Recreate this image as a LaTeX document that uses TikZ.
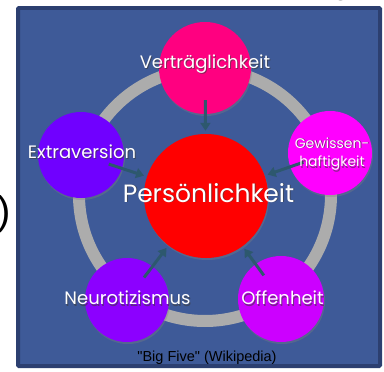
\documentclass[tikz,border=0pt]{standalone}
\usepackage{fontspec}
\setmainfont{Poppins}
\newfontfamily\capfont{Liberation Sans}
\usetikzlibrary{arrows.meta,shadows}
\definecolor{panelfill}{RGB}{62,90,152}
\definecolor{panelborder}{RGB}{44,63,112}
\definecolor{ringgray}{RGB}{172,172,172}
\definecolor{arrowcol}{RGB}{45,88,110}
\definecolor{cVert}{RGB}{255,0,128}
\definecolor{cExtra}{RGB}{112,0,255}
\definecolor{cPers}{RGB}{255,0,0}
\definecolor{cGew}{RGB}{255,0,255}
\definecolor{cNeur}{RGB}{140,0,255}
\definecolor{cOff}{RGB}{204,0,255}
\definecolor{txtshadow}{RGB}{60,60,60}
\tikzset{
  trait/.style={circle, inner sep=0pt, minimum size=#1, draw=none,
    drop shadow={shadow xshift=1pt, shadow yshift=-2pt, opacity=0.35}},
  lbl/.style={text=white, font=\fontsize{18}{19}\selectfont, align=center, anchor=base, inner sep=0pt},
  lblsh/.style={lbl, text=txtshadow, opacity=0.6},
  conn/.style={draw=arrowcol, line width=3pt, shorten <=-14pt, shorten >=3pt,
    -{Triangle[length=8pt,width=10pt]}},
}
\begin{document}
\begin{tikzpicture}[x=1pt,y=-1pt]
\useasboundingbox (0,0) rectangle (384,372);
% cut-off fragments of surrounding text
\node[font=\capfont\fontsize{40}{40}\selectfont, anchor=center] (paren) at (4,214) {)};
\node[font=\capfont\fontsize{30}{30}\selectfont, anchor=base] (gfrag) at (341,-5.3) {g};
% panel
\draw[panelborder, line width=4pt, fill=panelfill, rounded corners=1pt] (18,8) rectangle (380,366);
% ring
\draw[ringgray, line width=12pt] (205,195) circle[radius=126];
% circles
\node[trait=124pt, fill=cPers] (pers) at (206,196) {};
\node[trait=92pt, fill=cVert] (vert) at (205,68) {};
\node[trait=86pt, fill=cExtra] (extra) at (81,155) {};
\node[trait=84pt, fill=cGew] (gew) at (330,153) {};
\node[trait=84pt, fill=cNeur] (neur) at (127,300) {};
\node[trait=86pt, fill=cOff] (off) at (281,299) {};
% arrows
\draw[conn] (vert) -- (pers);
\draw[conn] (extra) -- (pers);
\draw[conn] (gew) -- (pers);
\draw[conn] (neur) -- (pers);
\draw[conn] (off) -- (pers);
% label shadows
\node[lblsh] (svert) at (206,70) {Verträglichkeit};
\node[lblsh] (sextra) at (83,159) {Extraversion};
\node[lblsh, font=\fontsize{14}{15}\selectfont] (sgew1) at (333,149) {Gewissen-};
\node[lblsh, font=\fontsize{14}{15}\selectfont] (sgew2) at (333,168) {haftigkeit};
\node[lblsh, font=\fontsize{25}{26}\selectfont] (spers) at (209.5,203) {Persönlichkeit};
\node[lblsh] (sneur) at (128.5,306) {Neurotizismus};
\node[lblsh] (soff) at (283.5,306) {Offenheit};
% labels
\node[lbl] (tvert) at (205,69) {Verträglichkeit};
\node[lbl] (textra) at (82,158) {Extraversion};
\node[lbl, font=\fontsize{14}{15}\selectfont] (tgew1) at (332,148) {Gewissen-};
\node[lbl, font=\fontsize{14}{15}\selectfont] (tgew2) at (332,167) {haftigkeit};
\node[lbl, font=\fontsize{25}{26}\selectfont] (tpers) at (208.5,202) {Persönlichkeit};
\node[lbl] (tneur) at (127.5,305) {Neurotizismus};
\node[lbl] (toff) at (282.5,305) {Offenheit};
\node[font=\capfont\fontsize{14.5}{15}\selectfont, text=black, anchor=base, inner sep=0pt] (cap) at (207,361) {"Big Five" (Wikipedia)};
\end{tikzpicture}
\end{document}
